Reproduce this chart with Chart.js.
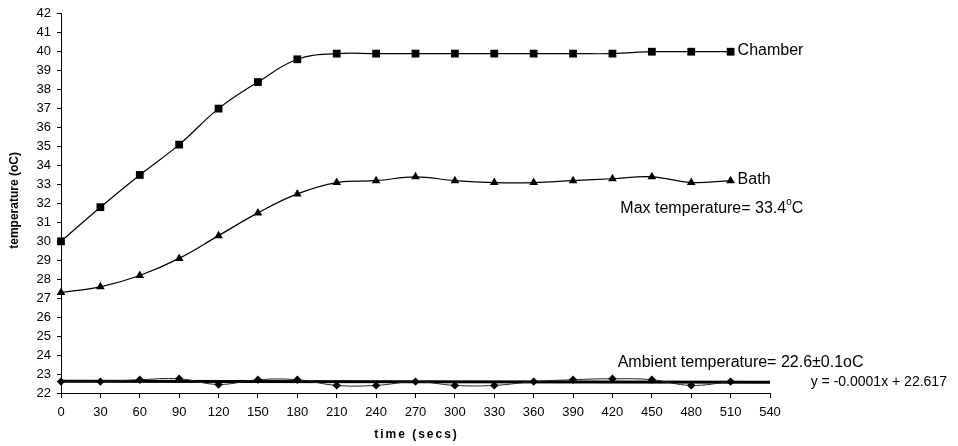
<!DOCTYPE html>
<html>
<head>
<meta charset="utf-8">
<script src="https://cdn.jsdelivr.net/npm/chart.js@4/dist/chart.umd.min.js"></script>
<style>
  body { margin: 0; background: #fff; }
  #wrap { width: 958px; height: 446px; position: relative; }
</style>
</head>
<body>
<div id="wrap"><canvas id="tempChart"></canvas></div>
<script>
// time in seconds
const times = [0, 30, 60, 90, 120, 150, 180, 210, 240, 270, 300, 330, 360, 390, 420, 450, 480, 510];
const chamber = [30.0, 31.8, 33.5, 35.1, 37.0, 38.4, 39.6, 39.9, 39.9, 39.9, 39.9, 39.9, 39.9, 39.9, 39.9, 40.0, 40.0, 40.0];
const bath = [27.3, 27.6, 28.2, 29.1, 30.3, 31.5, 32.5, 33.1, 33.2, 33.4, 33.2, 33.1, 33.1, 33.2, 33.3, 33.4, 33.1, 33.2];
const ambient = [22.6, 22.6, 22.7, 22.75, 22.45, 22.7, 22.7, 22.4, 22.4, 22.6, 22.4, 22.4, 22.6, 22.7, 22.75, 22.7, 22.4, 22.6];
// linear trend of ambient: y = -0.0001x + 22.617
const trendSlope = -0.0001;
const trendIntercept = 22.617;
const trendX = [0, 540];

const xTicks = {min: 0, max: 540, step: 30};
const yTicks = {min: 22, max: 42, step: 1};

const FONT = "'Liberation Sans', Arial, sans-serif";

const pts = (ys) => times.map((t, i) => ({x: t, y: ys[i]}));

// axis titles (drawn here so the letter spacing can match)
const axisTitles = {
    id: 'axisTitles',
    afterDraw(chart) {
        const {ctx, chartArea: a} = chart;
        ctx.save();
        ctx.fillStyle = '#000';
        ctx.textAlign = 'center';
        ctx.textBaseline = 'middle';
        ctx.font = 'bold 12px ' + FONT;
        ctx.letterSpacing = '2px';
        ctx.fillText('time (secs)', (a.left + a.right) / 2 + 1, 435);
        ctx.letterSpacing = '0px';
        ctx.translate(15, (a.top + a.bottom) / 2 - 3);
        ctx.rotate(-Math.PI / 2);
        ctx.fillText('temperature (oC)', 0, 0);
        ctx.restore();
    }
};

// text notes drawn next to the curves
const notes = {
    id: 'notes',
    afterDatasetsDraw(chart) {
        const {ctx, scales: {x, y}} = chart;
        ctx.save();
        ctx.fillStyle = '#000';
        ctx.font = '16px ' + FONT;
        ctx.textBaseline = 'middle';
        ctx.textAlign = 'left';
        const lastT = times[times.length - 1];
        ctx.fillText('Chamber', x.getPixelForValue(lastT) + 7, y.getPixelForValue(chamber[chamber.length - 1]) - 1);
        ctx.fillText('Bath', x.getPixelForValue(lastT) + 7, y.getPixelForValue(bath[bath.length - 1]) - 1);

        // Max temperature with superscript o
        let px = x.getPixelForValue(426), py = y.getPixelForValue(31.75);
        const s1 = 'Max temperature= 33.4';
        ctx.fillText(s1, px, py);
        px += ctx.measureText(s1).width;
        ctx.font = '10px ' + FONT;
        ctx.fillText('o', px, py - 6);
        px += ctx.measureText('o').width;
        ctx.font = '16px ' + FONT;
        ctx.fillText('C', px, py);

        ctx.fillText('Ambient temperature= 22.6\u00b10.1oC', x.getPixelForValue(424), y.getPixelForValue(23.58));
        ctx.font = '14px ' + FONT;
        ctx.fillText('y = -0.0001x + 22.617', x.getPixelForValue(571), y.getPixelForValue(22.58));
        ctx.restore();
    }
};

new Chart(document.getElementById('tempChart'), {
    type: 'line',
    data: {
        datasets: [
            {
                label: 'Chamber',
                data: pts(chamber),
                borderColor: '#000',
                backgroundColor: '#000',
                borderWidth: 1.2,
                tension: 0.4,
                pointStyle: 'rect',
                pointRadius: 5.5,
                pointBorderWidth: 0,
                clip: false,
            },
            {
                label: 'Bath',
                data: pts(bath),
                borderColor: '#000',
                backgroundColor: '#000',
                borderWidth: 1.2,
                tension: 0.4,
                pointStyle: 'triangle',
                pointRadius: 5,
                pointBorderWidth: 0,
                clip: false,
            },
            {
                label: 'Ambient',
                data: pts(ambient),
                borderColor: '#222',
                backgroundColor: '#000',
                borderWidth: 1,
                tension: 0.4,
                pointStyle: 'rectRot',
                pointRadius: 4.2,
                pointBorderWidth: 0,
                clip: false,
            },
            {
                label: 'Trend',
                data: trendX.map(t => ({x: t, y: trendSlope * t + trendIntercept})),
                borderColor: '#000',
                borderWidth: 3,
                pointRadius: 0,
                tension: 0,
            },
        ],
    },
    options: {
        responsive: true,
        maintainAspectRatio: false,
        animation: false,
        layout: {padding: {top: 13, right: 188, left: 0, bottom: 0}},
        plugins: {
            legend: {display: false},
            tooltip: {enabled: false},
        },
        scales: {
            x: {
                type: 'linear',
                min: xTicks.min,
                max: xTicks.max,
                afterFit: (s) => { s.height = 53; },
                ticks: {
                    stepSize: xTicks.step,
                    color: '#000',
                    font: {family: FONT, size: 13},
                    padding: 7,
                    maxRotation: 0,
                    autoSkip: false,
                },
                grid: {drawOnChartArea: false, drawTicks: true, tickLength: 5, color: '#000'},
                border: {display: true, color: '#000', width: 1},
            },
            y: {
                min: yTicks.min,
                max: yTicks.max,
                afterFit: (s) => { s.width = 61; },
                ticks: {
                    stepSize: yTicks.step,
                    color: '#000',
                    font: {family: FONT, size: 13},
                    padding: 6,
                    autoSkip: false,
                },
                grid: {drawOnChartArea: false, drawTicks: true, tickLength: 4, color: '#000'},
                border: {display: true, color: '#000', width: 1},
            },
        },
    },
    plugins: [notes, axisTitles],
});
</script>
</body>
</html>
